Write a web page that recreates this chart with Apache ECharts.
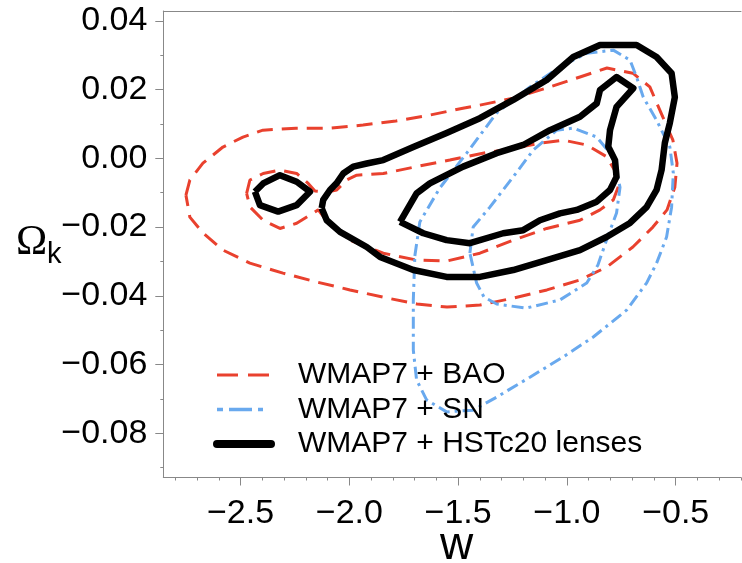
<!DOCTYPE html>
<html>
<head>
<meta charset="utf-8">
<style>html,body{margin:0;padding:0;background:#fff;}#main{width:742px;height:563px;}</style>
<script src="https://cdn.jsdelivr.net/npm/echarts@6/dist/echarts.min.js"></script>
</head>
<body>
<div id="main"></div>
<script>
// ---- axis ticks ----
const wTicks = [-2.5, -2.0, -1.5, -1.0, -0.5];
const wMinorTicks = [-2.8, -2.7, -2.6, -2.5, -2.4, -2.3, -2.2, -2.1, -2.0, -1.9, -1.8, -1.7, -1.6, -1.5, -1.4, -1.3, -1.2, -1.1, -1.0, -0.9, -0.8, -0.7, -0.6, -0.5, -0.4, -0.3, -0.2];
const okTicks = [-0.08, -0.06, -0.04, -0.02, 0.00, 0.02, 0.04];
const okMinorTicks = [-0.09, -0.08, -0.07, -0.06, -0.05, -0.04, -0.03, -0.02, -0.01, 0.00, 0.01, 0.02, 0.03, 0.04];

// ---- WMAP7 + BAO contours ----
const baoOuterW = [-2.751,-2.733,-2.673,-2.581,-2.489,-2.397,-2.245,-2.089,-1.937,-1.786,-1.630,-1.478,-1.400,-1.248,-1.092,-0.940,-0.816,-0.697,-0.619,-0.559,-0.513,-0.494,-0.504,-0.540,-0.605,-0.697,-0.816,-0.940,-1.092,-1.248,-1.400,-1.551,-1.689,-1.846,-1.997,-2.149,-2.305,-2.457,-2.581,-2.673,-2.733];
const baoOuterOk = [-0.0107,-0.0063,-0.0014,0.0033,0.0062,0.0082,0.0088,0.0088,0.0097,0.0109,0.0126,0.0146,0.0155,0.0175,0.0205,0.0237,0.0263,0.0248,0.0208,0.0120,0.0053,-0.0014,-0.0084,-0.0150,-0.0200,-0.0258,-0.0316,-0.0354,-0.0383,-0.0407,-0.0427,-0.0433,-0.0424,-0.0404,-0.0383,-0.0360,-0.0334,-0.0305,-0.0267,-0.0217,-0.0171];
const baoInnerW = [-2.472,-2.457,-2.396,-2.319,-2.242,-2.189,-2.158,-2.104,-2.058,-2.012,-1.966,-1.844,-1.691,-1.538,-1.386,-1.247,-1.124,-1.017,-0.909,-0.818,-0.772,-0.764,-0.787,-0.848,-0.940,-1.093,-1.247,-1.400,-1.553,-1.691,-1.844,-1.997,-2.089,-2.143,-2.181,-2.242,-2.319,-2.396,-2.457];
const baoInnerOk = [-0.0102,-0.0063,-0.0044,-0.0034,-0.0044,-0.0073,-0.0095,-0.0098,-0.0092,-0.0063,-0.0049,-0.0044,-0.0024,-0.0005,0.0015,0.0029,0.0044,0.0053,0.0039,0.0005,-0.0044,-0.0083,-0.0121,-0.0150,-0.0180,-0.0204,-0.0238,-0.0276,-0.0299,-0.0296,-0.0276,-0.0238,-0.0194,-0.0150,-0.0165,-0.0189,-0.0204,-0.0180,-0.0141];

// ---- WMAP7 + SN contours ----
const snOuterW = [-1.699,-1.676,-1.584,-1.461,-1.323,-1.170,-1.032,-0.909,-0.787,-0.710,-0.680,-0.649,-0.588,-0.527,-0.511,-0.519,-0.542,-0.588,-0.634,-0.726,-0.879,-1.017,-1.170,-1.323,-1.431,-1.553,-1.645,-1.691,-1.706,-1.706];
const snOuterOk = [-0.0284,-0.0185,-0.0086,0.0015,0.0132,0.0208,0.0266,0.0306,0.0315,0.0286,0.0237,0.0178,0.0111,0.0033,-0.0043,-0.0142,-0.0229,-0.0305,-0.0363,-0.0442,-0.0520,-0.0578,-0.0637,-0.0695,-0.0733,-0.0738,-0.0703,-0.0645,-0.0558,-0.0412];
const snInnerW = [-1.446,-1.431,-1.354,-1.247,-1.155,-1.047,-0.971,-0.863,-0.787,-0.756,-0.772,-0.818,-0.858,-0.909,-1.032,-1.188,-1.323,-1.381,-1.415];
const snInnerOk = [-0.0276,-0.0200,-0.0142,-0.0054,0.0024,0.0082,0.0088,0.0062,0.0004,-0.0084,-0.0159,-0.0238,-0.0311,-0.0363,-0.0412,-0.0436,-0.0424,-0.0404,-0.0363];

// ---- WMAP7 + HSTc20 lenses contours ----
const hstOuterW = [-2.127,-2.120,-2.089,-2.058,-2.028,-1.982,-1.920,-1.844,-1.706,-1.553,-1.400,-1.247,-1.093,-0.971,-0.848,-0.680,-0.588,-0.519,-0.504,-0.527,-0.550,-0.565,-0.588,-0.634,-0.710,-0.818,-0.940,-1.093,-1.247,-1.400,-1.553,-1.706,-1.859,-1.920,-2.043,-2.104];
const hstOuterOk = [-0.0145,-0.0121,-0.0092,-0.0072,-0.0044,-0.0024,-0.0015,-0.0005,0.0033,0.0074,0.0117,0.0170,0.0228,0.0295,0.0330,0.0330,0.0295,0.0248,0.0178,0.0103,0.0045,-0.0034,-0.0092,-0.0142,-0.0188,-0.0229,-0.0267,-0.0296,-0.0325,-0.0345,-0.0345,-0.0325,-0.0287,-0.0258,-0.0214,-0.0180];
const hstInnerW = [-1.767,-1.691,-1.630,-1.477,-1.323,-1.201,-1.078,-0.940,-0.863,-0.848,-0.772,-0.695,-0.772,-0.802,-0.810,-0.779,-0.772,-0.802,-0.863,-0.955,-1.032,-1.124,-1.201,-1.293,-1.446,-1.553,-1.660];
const hstInnerOk = [-0.0185,-0.0102,-0.0073,-0.0024,0.0015,0.0039,0.0082,0.0121,0.0160,0.0199,0.0237,0.0204,0.0150,0.0082,0.0034,-0.0005,-0.0054,-0.0092,-0.0126,-0.0150,-0.0160,-0.0180,-0.0209,-0.0218,-0.0247,-0.0238,-0.0218];
const hstIslandW = [-2.434,-2.411,-2.327,-2.242,-2.181,-2.242,-2.319,-2.396];
const hstIslandOk = [-0.0097,-0.0136,-0.0155,-0.0136,-0.0097,-0.0068,-0.0049,-0.0073];

const seriesNames = ['WMAP7 + BAO', 'WMAP7 + SN', 'WMAP7 + HSTc20 lenses'];

function loop(ws, oks) {
  const pts = ws.map((w, i) => [w, oks[i]]);
  pts.push([ws[0], oks[0]]);
  return pts;
}

const RED = '#e9412e';
const BLUE = '#69a9ee';
const BLACK = '#000000';
const FONT = '"Liberation Sans", Arial, Helvetica, sans-serif';

const redStyle = { color: RED, width: 3, type: [16, 9] };
const blueStyle = { color: BLUE, width: 3, type: [12, 5, 3, 5] };
const blackStyle = { color: BLACK, width: 6.5, type: 'solid', join: 'round' };

function mk(name, data, ls) {
  return {
    name: name, type: 'line', data: data, symbol: 'none', showSymbol: false,
    smooth: false, lineStyle: ls, itemStyle: { color: ls.color },
    xAxisIndex: 0, yAxisIndex: 0, silent: true, z: ls.color === BLACK ? 4 : (ls.color === BLUE ? 3 : 2)
  };
}

const W_MIN = -2.855, W_MAX = -0.2, OK_MIN = -0.0929, OK_MAX = 0.0429;
const gray = '#888888';

function fmtW(v) { return (v < 0 ? '\u2212' : '') + Math.abs(v).toFixed(1); }
function fmtOk(v) { const a = Math.abs(v); return (v < -1e-9 ? '\u2212' : '') + a.toFixed(2); }

const hiddenSymbol = { opacity: 0, borderWidth: 0, color: 'rgba(0,0,0,0)' };

const chart = echarts.init(document.getElementById('main'), null, { renderer: 'canvas' });
chart.setOption({
  animation: false,
  backgroundColor: '#ffffff',
  grid: { left: 163.3, top: 11, right: 1, bottom: 85.5, containLabel: false },
  xAxis: [
    { type: 'value', min: W_MIN, max: W_MAX, position: 'bottom',
      axisLine: { show: true, onZero: false, lineStyle: { color: gray, width: 1 } },
      axisTick: { show: true, length: 8, customValues: wTicks, lineStyle: { color: gray } },
      axisLabel: { show: true, customValues: wTicks, formatter: fmtW, color: '#000', fontSize: 34, fontFamily: FONT, margin: 19 },
      splitLine: { show: false } },
    { type: 'value', min: W_MIN, max: W_MAX, position: 'bottom',
      axisLine: { show: false, onZero: false },
      axisTick: { show: true, length: 3, customValues: wMinorTicks, lineStyle: { color: gray } },
      axisLabel: { show: false }, splitLine: { show: false } },
    { type: 'value', min: W_MIN, max: W_MAX, position: 'top',
      axisLine: { show: true, onZero: false, lineStyle: { color: gray, width: 1 } },
      axisTick: { show: false }, axisLabel: { show: false }, splitLine: { show: false } }
  ],
  yAxis: [
    { type: 'value', min: OK_MIN, max: OK_MAX, position: 'left',
      axisLine: { show: true, onZero: false, lineStyle: { color: gray, width: 1 } },
      axisTick: { show: true, length: 8, customValues: okTicks, lineStyle: { color: gray } },
      axisLabel: { show: true, customValues: okTicks, formatter: fmtOk, color: '#000', fontSize: 34, fontFamily: FONT, margin: 16 },
      splitLine: { show: false } },
    { type: 'value', min: OK_MIN, max: OK_MAX, position: 'left',
      axisLine: { show: false, onZero: false },
      axisTick: { show: true, length: 3, customValues: okMinorTicks, lineStyle: { color: gray } },
      axisLabel: { show: false }, splitLine: { show: false } }
  ],
  legend: {
    orient: 'vertical', left: 208, top: 355, itemWidth: 54, itemHeight: 12, itemGap: 4.5,
    selectedMode: false,
    itemStyle: hiddenSymbol,
    textStyle: { fontSize: 30, fontFamily: FONT, color: '#000', lineHeight: 30, padding: [0, 0, 0, 22] },
    data: [
      { name: seriesNames[0], itemStyle: hiddenSymbol, lineStyle: { color: RED, width: 3, type: [21, 10] } },
      { name: seriesNames[1], itemStyle: hiddenSymbol, lineStyle: { color: BLUE, width: 3.5, type: [6, 6, 23, 6, 5, 20] } },
      { name: seriesNames[2], itemStyle: hiddenSymbol, lineStyle: { color: BLACK, width: 8, type: 'solid', cap: 'round' } }
    ]
  },
  graphic: [
    { type: 'text', left: 16, top: 222, style: { text: '\u03A9', font: '42px "Liberation Serif", "DejaVu Serif", serif', fill: '#000' } },
    { type: 'text', left: 47, top: 240, style: { text: 'k', font: '29px ' + FONT, fill: '#000' } },
    { type: 'text', left: 440, top: 523, style: { text: 'w', font: '46px ' + FONT, fill: '#000' } }
  ],
  series: [
    mk(seriesNames[0], loop(baoOuterW, baoOuterOk), redStyle),
    mk(seriesNames[0], loop(baoInnerW, baoInnerOk), redStyle),
    mk(seriesNames[1], loop(snOuterW, snOuterOk), blueStyle),
    mk(seriesNames[1], loop(snInnerW, snInnerOk), blueStyle),
    mk(seriesNames[2], loop(hstOuterW, hstOuterOk), blackStyle),
    mk(seriesNames[2], loop(hstInnerW, hstInnerOk), blackStyle),
    mk(seriesNames[2], loop(hstIslandW, hstIslandOk), blackStyle)
  ]
});
</script>
</body>
</html>
